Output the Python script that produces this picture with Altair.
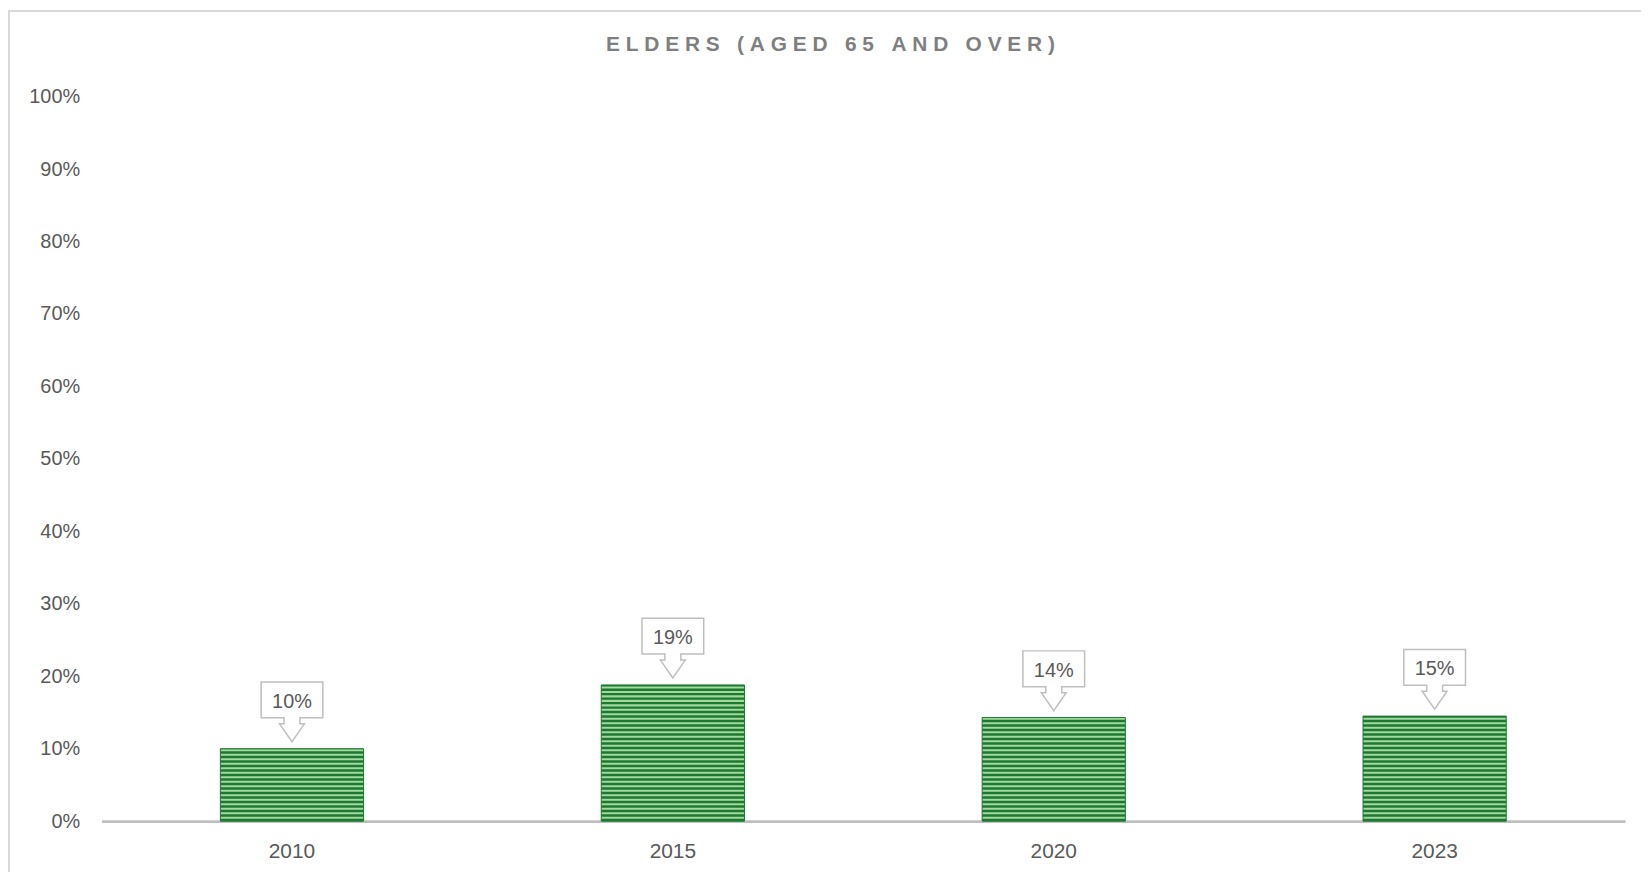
import altair as alt
import pandas as pd

YEARS = ["2010", "2015", "2020", "2023"]
VALUES = [0.100, 0.188, 0.143, 0.145]
LABELS = ["10%", "19%", "14%", "15%"]
TITLE = "ELDERS (AGED 65 AND OVER)"

df = pd.DataFrame({"year": YEARS, "value": VALUES, "label": LABELS})

FONT = "Liberation Sans"
DARK = "#1c7a30"
LIGHT = "#a3d89e"

CALLOUT = ("M0,0 L-0.403,-0.58 L-0.258,-0.58 L-0.258,-0.774 L-1,-0.774 L-1,-1.935 "
           "L1,-1.935 L1,-0.774 L0.258,-0.774 L0.258,-0.58 L0.403,-0.58 Z")

x_enc = alt.X("year:N", sort=YEARS, title=None,
              scale=alt.Scale(paddingInner=0.624, paddingOuter=0.312),
              axis=alt.Axis(labelAngle=0, ticks=False, domainColor="#bfbfbf",
                            domainWidth=3, labelFont=FONT, labelFontSize=21,
                            labelColor="#595959", labelPadding=20, grid=False))
y_scale = alt.Scale(domain=[0, 1])
y_enc = alt.Y("value:Q", scale=y_scale, title=None,
              axis=alt.Axis(format=".0%", values=[i / 10 for i in range(11)],
                            ticks=False, domain=False, grid=False,
                            labelFont=FONT, labelFontSize=20, labelColor="#595959",
                            labelPadding=22))

base = alt.Chart(df)

frame = alt.Chart(alt.Data(values=[{}])).mark_rect(
    fill="white", fillOpacity=0, stroke="#d9d9d9", strokeWidth=2
).encode(x=alt.value(-93), x2=alt.value(1600), y=alt.value(-86), y2=alt.value(900))

bars = base.mark_bar(color=LIGHT, stroke=DARK, strokeWidth=1).encode(x=x_enc, y=y_enc)

stripes = base.transform_calculate(
    s="sequence(0, datum.value, 0.0062)"
).transform_flatten(["s"]).transform_calculate(
    s2="min(datum.s + 0.0034, datum.value)"
).mark_bar(color=DARK).encode(
    x=alt.X("year:N", sort=YEARS),
    y=alt.Y("s:Q", scale=y_scale),
    y2="s2:Q",
)

callouts = base.mark_point(
    shape=CALLOUT, size=3844, filled=True, fill="white", stroke="#bfbfbf",
    strokeWidth=1.5, opacity=1, yOffset=-7
).encode(x=alt.X("year:N", sort=YEARS), y=alt.Y("value:Q", scale=y_scale))

texts = base.mark_text(
    yOffset=-47, baseline="middle", font=FONT, fontSize=20, color="#595959"
).encode(x=alt.X("year:N", sort=YEARS), y=alt.Y("value:Q", scale=y_scale), text="label:N")

chart = alt.layer(frame, bars, stripes, callouts, texts).properties(
    width=1531, height=728,
    title=alt.TitleParams("\u2008".join(TITLE), font=FONT, fontSize=21, fontWeight="bold",
                          color="#7f7f7f", anchor="middle", frame="group",
                          baseline="alphabetic", dx=-33, offset=-62.5),
    autosize=alt.AutoSizeParams(type="none"),
    padding={"left": 94, "top": 87, "right": 16, "bottom": 49},
).configure(background="white", view=alt.ViewConfig(stroke="transparent"))

chart.save("out.html", embed_options={"renderer": "svg", "actions": False})
